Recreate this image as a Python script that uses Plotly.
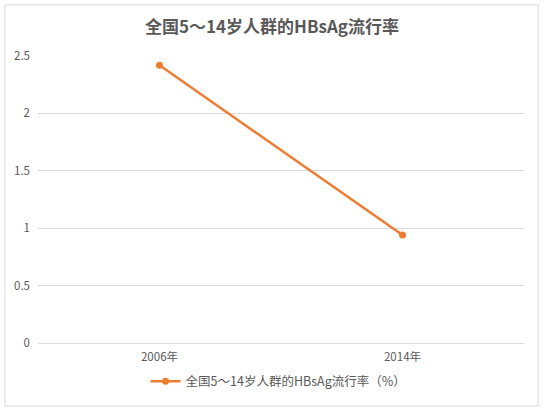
import plotly.graph_objects as go

years = ['2006年', '2014年']
rates = [2.42, 0.94]
series_name = '全国5～14岁人群的HBsAg流行率（%）'
title_text = '全国5～14岁人群的HBsAg流行率'

font_cn = 'Noto Sans CJK SC'
grey_txt = '#595959'
orange = '#ED7D31'

fig = go.Figure()

fig.add_trace(go.Scatter(
    x=years,
    y=rates,
    mode='lines+markers',
    name=series_name,
    line=dict(color=orange, width=2.5),
    marker=dict(color=orange, size=7),
))

# chart frame (Excel style border)
fig.add_shape(type='rect', xref='paper', yref='paper',
              x0=-0.068, x1=1.029, y0=-0.2195, y1=1.178,
              line=dict(color='#d9d9d9', width=1))

fig.update_layout(
    width=544,
    height=409,
    paper_bgcolor='white',
    plot_bgcolor='white',
    margin=dict(l=38, r=20, t=56, b=66, autoexpand=False),
    font=dict(family=font_cn, color=grey_txt, size=11),
    title=dict(text='<b>' + title_text + '</b>', x=0.5, xanchor='center',
               y=0.935, yanchor='middle',
               font=dict(family=font_cn, size=17, color=grey_txt)),
    showlegend=True,
    legend=dict(orientation='h', x=0.495, xanchor='center', y=-0.135, yanchor='middle',
                font=dict(size=12.5, color=grey_txt)),
    xaxis=dict(showgrid=False, showline=False, ticks='', zeroline=False,
               type='category', range=[-0.5, 1.5], automargin=False,
               ticklabelstandoff=5,
               tickfont=dict(size=11.5, color=grey_txt)),
    yaxis=dict(range=[0, 2.5], dtick=0.5, showgrid=True, gridcolor='#d9d9d9',
               gridwidth=1, zeroline=True, zerolinecolor='#d9d9d9', zerolinewidth=1,
               showline=False, ticks='', tickformat='~g', automargin=False,
               ticklabelstandoff=7,
               tickfont=dict(size=11.5, color=grey_txt)),
)

# drop the default page margin so the chart sits at the window's corner
fig.write_html("out.html", config={'displayModeBar': False},
               post_script="document.body.style.margin='0';")
